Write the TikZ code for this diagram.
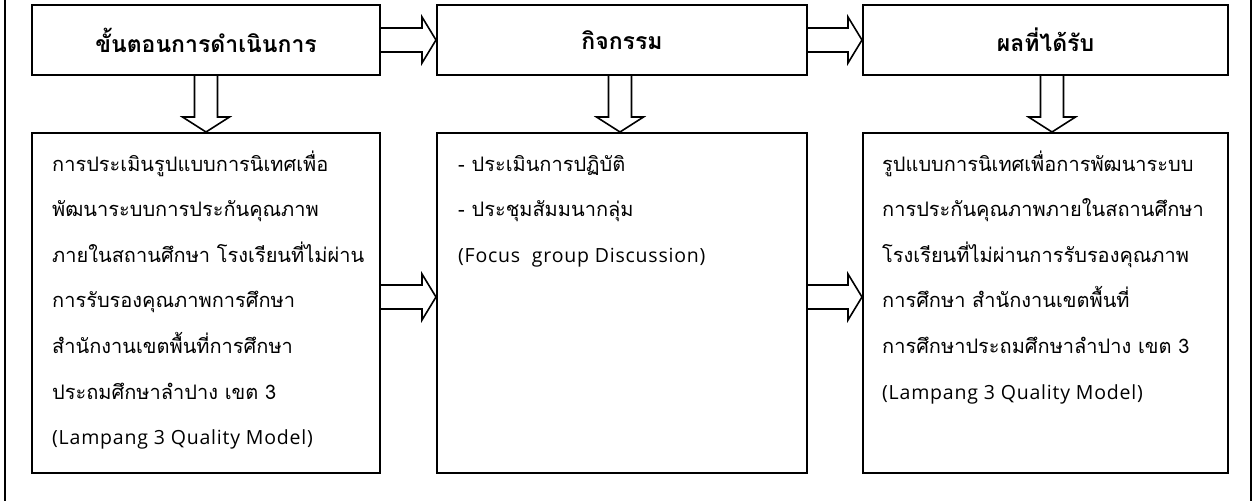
\documentclass[tikz,border=0pt]{standalone}
\usepackage{fontspec}
\newfontfamily\thaifont[Script=Thai]{Loma}
\newfontfamily\latinfont[LetterSpace=4]{Open Sans}
\usetikzlibrary{calc}
\tikzset{
  titlebox/.style={draw, line width=2pt, minimum height=70pt, inner sep=0pt, font=\thaifont\bfseries\fontsize{23}{28}\selectfont},
  bodybox/.style={draw, line width=2pt, minimum height=340pt, inner sep=0pt},
  bodytext/.style={inner sep=0pt, anchor=base west, font=\thaifont\fontsize{20}{24}\selectfont},
  latintext/.style={bodytext, font=\latinfont\fontsize{19.5}{24}\selectfont},
  blockarr/.style={draw, line width=1.6pt, line join=miter},
  frame/.style={draw, line width=1.4pt}
}
\newcommand\harrow[2]{%
  \draw[blockarr] let \p1=(#1), \p2=(#2) in
    (\x1,\y2+12pt) -- (\x2-14pt,\y2+12pt) -- (\x2-14pt,\y2+23pt) -- (\x2,\y2)
    -- (\x2-14pt,\y2-23pt) -- (\x2-14pt,\y2-12pt) -- (\x1,\y2-12pt);}
\newcommand\varrow[2]{%
  \draw[blockarr] let \p1=(#1), \p2=(#2) in
    (\x2-11.5pt,\y1) -- (\x2-11.5pt,\y2+15pt) -- (\x2-23.5pt,\y2+15pt) -- (\x2,\y2)
    -- (\x2+23.5pt,\y2+15pt) -- (\x2+11.5pt,\y2+15pt) -- (\x2+11.5pt,\y1);}
\begin{document}
\begin{tikzpicture}[x=1pt, y=-1pt]
\useasboundingbox (0,0) rectangle (1254,501);
\path[frame] (5,-10) rectangle (1251,511);
% title boxes
\node[titlebox, minimum width=348pt] (t1) at (206,40) {ขั้นตอนการดำเนินการ};
\node[titlebox, minimum width=370pt] (t2) at (622,40) {กิจกรรม};
\node[titlebox, minimum width=365pt] (t3) at (1045.5,40) {ผลที่ได้รับ};
% body boxes
\node[bodybox, minimum width=348pt] (b1) at (206,303) {};
\node[bodybox, minimum width=370pt] (b2) at (622,303) {};
\node[bodybox, minimum width=365pt] (b3) at (1045.5,303) {};
% body texts
\foreach \t [count=\i] in {
  {การประเมินรูปแบบการนิเทศเพื่อ},
  {พัฒนาระบบการประกันคุณภาพ},
  {ภายในสถานศึกษา โรงเรียนที่ไม่ผ่าน},
  {การรับรองคุณภาพการศึกษา},
  {สำนักงานเขตพื้นที่การศึกษา},
  {ประถมศึกษาลำปาง เขต 3}}
  \node[bodytext] (p\i) at (52,{171+(\i-1)*45.6}) {\t};
\node[latintext] (p7) at (52,{171+6*45.6}) {(Lampang 3 Quality Model)};
\foreach \t [count=\i] in {
  {- ประเมินการปฏิบัติ},
  {- ประชุมสัมมนากลุ่ม}}
  \node[bodytext] (q\i) at (458,{171+(\i-1)*45.6}) {\t};
\node[latintext] (q3) at (458,{171+2*45.6}) {(Focus\ \ group Discussion)};
\foreach \t [count=\i] in {
  {รูปแบบการนิเทศเพื่อการพัฒนาระบบ},
  {การประกันคุณภาพภายในสถานศึกษา},
  {โรงเรียนที่ไม่ผ่านการรับรองคุณภาพ},
  {การศึกษา สำนักงานเขตพื้นที่},
  {การศึกษาประถมศึกษาลำปาง เขต 3}}
  \node[bodytext] (r\i) at (882,{171+(\i-1)*45.6}) {\t};
\node[latintext] (r6) at (882,{171+5*45.6}) {(Lampang 3 Quality Model)};
% arrow end points
\coordinate (h1a) at (t1.east); \coordinate (h1b) at (t2.west);
\coordinate (h2a) at (t2.east); \coordinate (h2b) at (t3.west);
\coordinate (h3a) at ($(b1.east)+(0,-6)$); \coordinate (h3b) at ($(b2.west)+(0,-6)$);
\coordinate (h4a) at ($(b2.east)+(0,-6)$); \coordinate (h4b) at ($(b3.west)+(0,-6)$);
\coordinate (v1a) at (t1.south); \coordinate (v1b) at (b1.north);
\coordinate (v2a) at (t2.south); \coordinate (v2b) at ($(b2.north)+(-2,0)$);
\coordinate (v3a) at (t3.south); \coordinate (v3b) at ($(b3.north)+(6.5,0)$);
\harrow{h1a}{h1b}
\harrow{h2a}{h2b}
\harrow{h3a}{h3b}
\harrow{h4a}{h4b}
\varrow{v1a}{v1b}
\varrow{v2a}{v2b}
\varrow{v3a}{v3b}
\end{tikzpicture}
\end{document}
